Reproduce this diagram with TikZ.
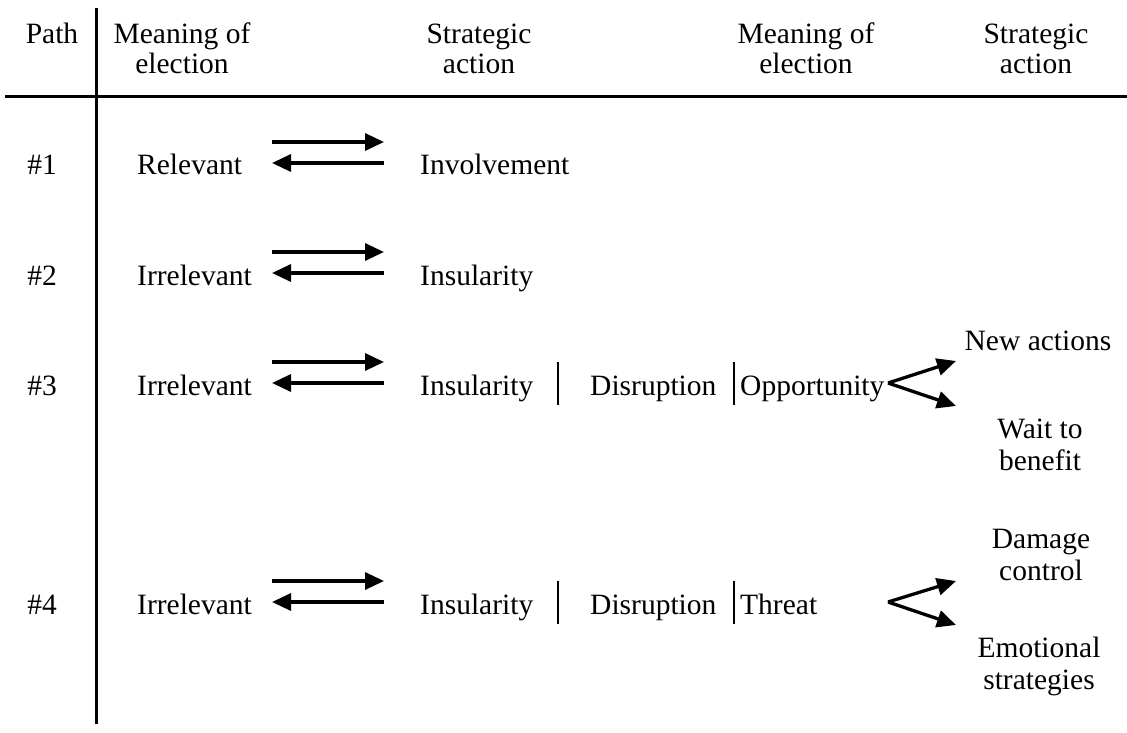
\documentclass[tikz,border=0pt]{standalone}
\usepackage{fontspec}
\setmainfont{Liberation Serif}
\usetikzlibrary{arrows.meta}
\newcommand\twoline[2]{\begin{tabular}[t]{@{}c@{}}#1\\#2\end{tabular}}
\begin{document}
\begin{tikzpicture}[x=1pt,y=-1pt,
  txt/.style={inner sep=0pt, anchor=base, font=\fontsize{29.5}{30}\selectfont},
  rtxt/.style={txt, font=\fontsize{29.5}{32.5}\selectfont},
  ltxt/.style={txt, anchor=base west},
  tablerule/.style={line width=3pt},
  sepbar/.style={line width=1.4pt},
  arr/.style={line width=3.3pt, -{Triangle[length=19pt,width=17pt]}},
  forkarr/.style={line width=3.3pt, -{Triangle[length=19pt,width=17pt]}},
]
\useasboundingbox (0,0) rectangle (1127,733);

% table rules
\draw[tablerule] (96,8) -- (96,724);
\draw[tablerule] (5,97) -- (1127,97);

% header
\node[txt] (hpath) at (52,44) {Path};
\node[txt] (hmean1) at (182,44) {\twoline{Meaning of}{election}};
\node[txt] (hstrat1) at (479,44) {\twoline{Strategic}{action}};
\node[txt] (hmean2) at (806,44) {\twoline{Meaning of}{election}};
\node[txt] (hstrat2) at (1036,44) {\twoline{Strategic}{action}};

% row 1
\node[txt] (p1) at (42,175) {\#1};
\node[ltxt] (m1) at (137,175) {Relevant};
\node[ltxt] (s1) at (420,175) {Involvement};
\coordinate (a1l) at (272,142); \coordinate (a1r) at (384,142);
\coordinate (b1l) at (272,163); \coordinate (b1r) at (384,163);
\draw[arr] (a1l) -- (a1r);
\draw[arr] (b1r) -- (b1l);

% row 2
\node[txt] (p2) at (42,285) {\#2};
\node[ltxt] (m2) at (137,285) {Irrelevant};
\node[ltxt] (s2) at (420,285) {Insularity};
\coordinate (a2l) at (272,252); \coordinate (a2r) at (384,252);
\coordinate (b2l) at (272,273); \coordinate (b2r) at (384,273);
\draw[arr] (a2l) -- (a2r);
\draw[arr] (b2r) -- (b2l);

% row 3
\node[txt] (p3) at (42,395) {\#3};
\node[ltxt] (m3) at (137,395) {Irrelevant};
\node[ltxt] (s3) at (420,395) {Insularity};
\node[ltxt] (d3) at (590,395) {Disruption};
\node[ltxt] (o3) at (740,395) {Opportunity};
\coordinate (a3l) at (272,362); \coordinate (a3r) at (384,362);
\coordinate (b3l) at (272,383); \coordinate (b3r) at (384,383);
\draw[arr] (a3l) -- (a3r);
\draw[arr] (b3r) -- (b3l);
\coordinate (bar3at) at (558,362); \coordinate (bar3ab) at (558,405);
\coordinate (bar3bt) at (734,362); \coordinate (bar3bb) at (734,405);
\draw[sepbar] (bar3at) -- (bar3ab);
\draw[sepbar] (bar3bt) -- (bar3bb);
\coordinate (f3) at (888,383);
\coordinate (f3u) at (956,361); \coordinate (f3d) at (956,406);
\draw[forkarr] (f3) -- (f3u);
\draw[forkarr] (f3) -- (f3d);
\node[rtxt] (na) at (1038,350) {New actions};
\node[rtxt] (wb) at (1040,438) {\twoline{Wait to}{benefit}};

% row 4
\node[txt] (p4) at (42,614) {\#4};
\node[ltxt] (m4) at (137,614) {Irrelevant};
\node[ltxt] (s4) at (420,614) {Insularity};
\node[ltxt] (d4) at (590,614) {Disruption};
\node[ltxt] (t4) at (740,614) {Threat};
\coordinate (a4l) at (272,581); \coordinate (a4r) at (384,581);
\coordinate (b4l) at (272,602); \coordinate (b4r) at (384,602);
\draw[arr] (a4l) -- (a4r);
\draw[arr] (b4r) -- (b4l);
\coordinate (bar4at) at (558,581); \coordinate (bar4ab) at (558,624);
\coordinate (bar4bt) at (734,581); \coordinate (bar4bb) at (734,624);
\draw[sepbar] (bar4at) -- (bar4ab);
\draw[sepbar] (bar4bt) -- (bar4bb);
\coordinate (f4) at (888,602);
\coordinate (f4u) at (956,581); \coordinate (f4d) at (956,625);
\draw[forkarr] (f4) -- (f4u);
\draw[forkarr] (f4) -- (f4d);
\node[rtxt] (dc) at (1041,548) {\twoline{Damage}{control}};
\node[rtxt] (es) at (1039,657) {\twoline{Emotional}{strategies}};
\end{tikzpicture}
\end{document}
